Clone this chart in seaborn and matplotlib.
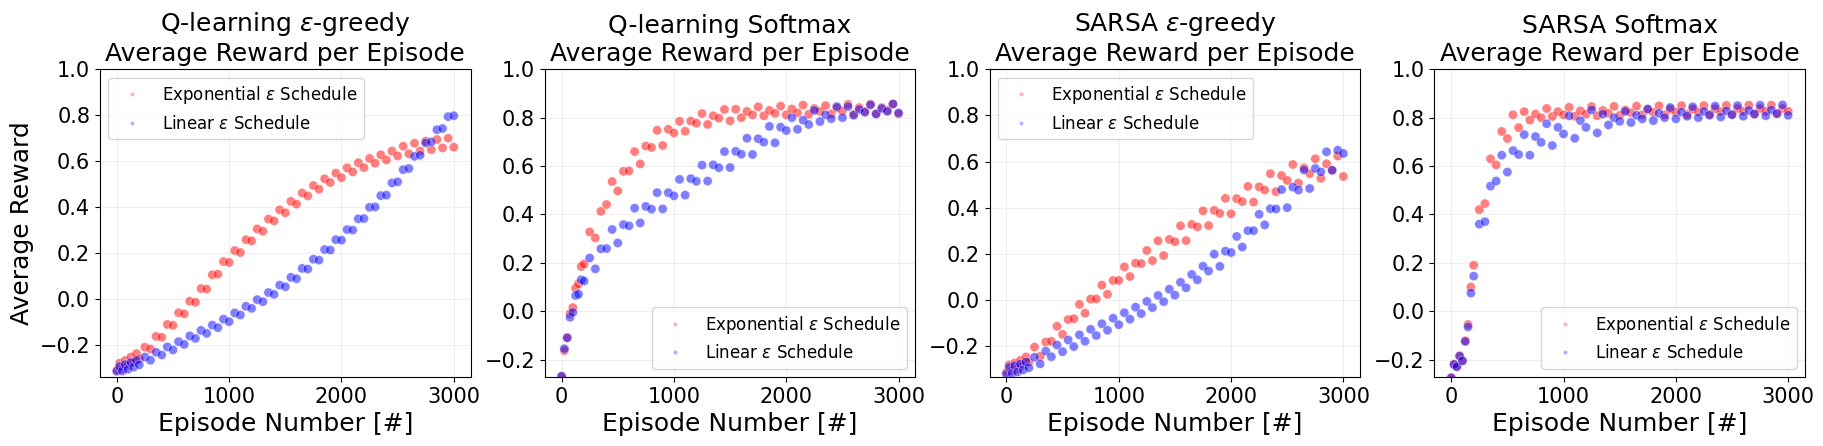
import matplotlib
matplotlib.use("Agg")
import matplotlib.pyplot as plt
import seaborn as sns
import pandas as pd

episodes = [0, 25, 50, 75, 100, 125, 150, 175, 200, 250, 300, 350, 400, 450, 500,
            550, 600, 650, 700, 750, 800, 850, 900, 950, 1000, 1050, 1100, 1150, 1200,
            1250, 1300, 1350, 1400, 1450, 1500, 1550, 1600, 1650, 1700, 1750, 1800,
            1850, 1900, 1950, 2000, 2050, 2100, 2150, 2200, 2250, 2300, 2350, 2400,
            2450, 2500, 2550, 2600, 2650, 2700, 2750, 2800, 2850, 2900, 2950, 3000]

# Q-learning epsilon-greedy
q_greedy_exp = [-0.31, -0.28, -0.305, -0.268, -0.29, -0.253, -0.275, -0.238, -0.261, -0.21,
                -0.218, -0.163, -0.167, -0.111, -0.115, -0.06, -0.065, -0.01, -0.015, 0.045,
                0.043, 0.105, 0.108, 0.163, 0.159, 0.211, 0.202, 0.258, 0.253, 0.305,
                0.295, 0.348, 0.34, 0.388, 0.375, 0.425, 0.413, 0.461, 0.449, 0.494,
                0.478, 0.523, 0.507, 0.548, 0.528, 0.571, 0.553, 0.593, 0.572, 0.612,
                0.591, 0.628, 0.605, 0.644, 0.623, 0.665, 0.632, 0.678, 0.644, 0.687,
                0.65, 0.694, 0.658, 0.70, 0.661]
q_greedy_lin = [-0.315, -0.294, -0.314, -0.286, -0.306, -0.277, -0.297, -0.268, -0.287, -0.253,
                -0.267, -0.232, -0.244, -0.209, -0.222, -0.186, -0.198, -0.161, -0.172, -0.137,
                -0.15, -0.114, -0.125, -0.088, -0.099, -0.061, -0.07, -0.032, -0.041, -0.003,
                -0.012, 0.028, 0.02, 0.06, 0.053, 0.094, 0.088, 0.133, 0.13, 0.173,
                0.169, 0.215, 0.213, 0.258, 0.256, 0.302, 0.30, 0.349, 0.35, 0.399,
                0.401, 0.45, 0.452, 0.505, 0.51, 0.563, 0.568, 0.621, 0.626, 0.679,
                0.684, 0.737, 0.742, 0.794, 0.798]

# Q-learning softmax
q_soft_exp = [-0.269, -0.163, -0.109, -0.01, 0.015, 0.095, 0.113, 0.185, 0.195, 0.328,
              0.303, 0.413, 0.441, 0.536, 0.497, 0.578, 0.58, 0.66, 0.609, 0.683,
              0.677, 0.748, 0.685, 0.752, 0.737, 0.785, 0.744, 0.786, 0.777, 0.817,
              0.772, 0.808, 0.798, 0.834, 0.787, 0.835, 0.80, 0.826, 0.812, 0.845,
              0.808, 0.83, 0.818, 0.848, 0.812, 0.836, 0.82, 0.852, 0.814, 0.838,
              0.826, 0.85, 0.815, 0.84, 0.828, 0.855, 0.814, 0.842, 0.826, 0.856,
              0.817, 0.842, 0.83, 0.856, 0.815]
q_soft_lin = [-0.269, -0.155, -0.11, -0.025, -0.005, 0.065, 0.07, 0.13, 0.125, 0.22,
              0.175, 0.258, 0.259, 0.338, 0.282, 0.358, 0.353, 0.426, 0.365, 0.433,
              0.422, 0.49, 0.423, 0.49, 0.477, 0.545, 0.48, 0.548, 0.537, 0.604,
              0.538, 0.605, 0.593, 0.66, 0.594, 0.661, 0.649, 0.715, 0.648, 0.713,
              0.699, 0.764, 0.696, 0.761, 0.747, 0.80, 0.752, 0.79, 0.772, 0.83,
              0.784, 0.812, 0.796, 0.846, 0.80, 0.846, 0.81, 0.834, 0.822, 0.853,
              0.815, 0.838, 0.826, 0.857, 0.82]

# SARSA epsilon-greedy
s_greedy_exp = [-0.315, -0.282, -0.308, -0.274, -0.30, -0.263, -0.285, -0.248, -0.27, -0.205,
                -0.245, -0.183, -0.18, -0.115, -0.15, -0.086, -0.082, -0.02, -0.058, 0.003,
                0.004, 0.064, 0.024, 0.084, 0.084, 0.143, 0.101, 0.159, 0.157, 0.214,
                0.17, 0.256, 0.192, 0.262, 0.252, 0.321, 0.257, 0.327, 0.317, 0.386,
                0.322, 0.388, 0.375, 0.44, 0.373, 0.439, 0.426, 0.492, 0.424, 0.49,
                0.476, 0.547, 0.469, 0.539, 0.518, 0.587, 0.506, 0.572, 0.547, 0.612,
                0.527, 0.59, 0.562, 0.624, 0.535]
s_greedy_lin = [-0.322, -0.292, -0.319, -0.286, -0.313, -0.279, -0.304, -0.27, -0.295, -0.249,
                -0.278, -0.223, -0.247, -0.196, -0.225, -0.174, -0.203, -0.152, -0.18, -0.128,
                -0.155, -0.104, -0.132, -0.08, -0.108, -0.056, -0.084, -0.032, -0.06, -0.007,
                -0.034, 0.019, -0.008, 0.046, 0.02, 0.076, 0.052, 0.11, 0.087, 0.146,
                0.125, 0.198, 0.145, 0.211, 0.205, 0.275, 0.229, 0.30, 0.30, 0.371,
                0.325, 0.395, 0.394, 0.478, 0.40, 0.489, 0.476, 0.563, 0.483, 0.57,
                0.555, 0.642, 0.562, 0.649, 0.635]

# SARSA softmax
s_soft_exp = [-0.275, -0.219, -0.228, -0.185, -0.205, -0.122, -0.055, 0.10, 0.19, 0.42,
              0.445, 0.63, 0.605, 0.743, 0.714, 0.812, 0.759, 0.825, 0.79, 0.815,
              0.80, 0.838, 0.805, 0.825, 0.812, 0.843, 0.806, 0.828, 0.815, 0.846,
              0.808, 0.83, 0.818, 0.847, 0.81, 0.832, 0.82, 0.848, 0.812, 0.834,
              0.822, 0.849, 0.812, 0.835, 0.823, 0.85, 0.813, 0.836, 0.824, 0.85,
              0.814, 0.837, 0.825, 0.851, 0.814, 0.838, 0.826, 0.852, 0.815, 0.838,
              0.826, 0.852, 0.815, 0.838, 0.826]
s_soft_lin = [-0.275, -0.22, -0.23, -0.185, -0.205, -0.125, -0.065, 0.075, 0.145, 0.36,
              0.37, 0.517, 0.538, 0.645, 0.575, 0.664, 0.648, 0.73, 0.645, 0.722,
              0.698, 0.775, 0.685, 0.76, 0.733, 0.808, 0.715, 0.788, 0.76, 0.832,
              0.737, 0.815, 0.77, 0.80, 0.785, 0.826, 0.78, 0.81, 0.795, 0.836,
              0.788, 0.818, 0.80, 0.842, 0.795, 0.823, 0.806, 0.845, 0.80, 0.826,
              0.81, 0.848, 0.803, 0.828, 0.812, 0.85, 0.806, 0.83, 0.815, 0.852,
              0.808, 0.832, 0.817, 0.853, 0.81]

titles = ["Q-learning $\\epsilon$-greedy\nAverage Reward per Episode",
          "Q-learning Softmax\nAverage Reward per Episode",
          "SARSA $\\epsilon$-greedy\nAverage Reward per Episode",
          "SARSA Softmax\nAverage Reward per Episode"]
exp_label = "Exponential $\\epsilon$ Schedule"
lin_label = "Linear $\\epsilon$ Schedule"

panels = [(q_greedy_exp, q_greedy_lin), (q_soft_exp, q_soft_lin),
          (s_greedy_exp, s_greedy_lin), (s_soft_exp, s_soft_lin)]
y_bottoms = [-0.34, -0.272, -0.335, -0.272]
legend_locs = ["upper left", "lower right", "upper left", "lower right"]

sns.set_style("ticks", {"axes.edgecolor": "black", "xtick.color": "black",
                        "ytick.color": "black", "text.color": "black",
                        "axes.labelcolor": "black"})
plt.rcParams["font.family"] = ["DejaVu Sans"]

fig, axes = plt.subplots(1, 4, figsize=(18.24, 4.46), dpi=100)
fig.subplots_adjust(left=0.0548, right=0.9896, bottom=0.1547, top=0.8446, wspace=0.2)

for i, ax in enumerate(axes):
    exp_vals, lin_vals = panels[i]
    df = pd.DataFrame({
        "episode": episodes + episodes,
        "reward": exp_vals + lin_vals,
        "schedule": [exp_label] * len(exp_vals) + [lin_label] * len(lin_vals),
    })
    sns.scatterplot(data=df, x="episode", y="reward", hue="schedule",
                    palette={exp_label: "red", lin_label: "blue"},
                    s=44, alpha=0.5, linewidth=0.5, ax=ax)
    ax.set_xlim(-150, 3150)
    ax.set_ylim(y_bottoms[i], 1.0)
    ax.set_xticks([0, 1000, 2000, 3000])
    ax.grid(True, alpha=0.3)
    ax.set_title(titles[i], fontsize=18)
    ax.set_xlabel("Episode Number [#]", fontsize=18)
    if i == 0:
        ax.set_ylabel("Average Reward", fontsize=18)
    else:
        ax.set_ylabel("")
    ax.tick_params(labelsize=15)
    leg = ax.legend(loc=legend_locs[i], fontsize=12, markerscale=0.45)
    for h in leg.legend_handles:
        h.set_alpha(0.3)

fig.savefig("out.png", dpi=100)
